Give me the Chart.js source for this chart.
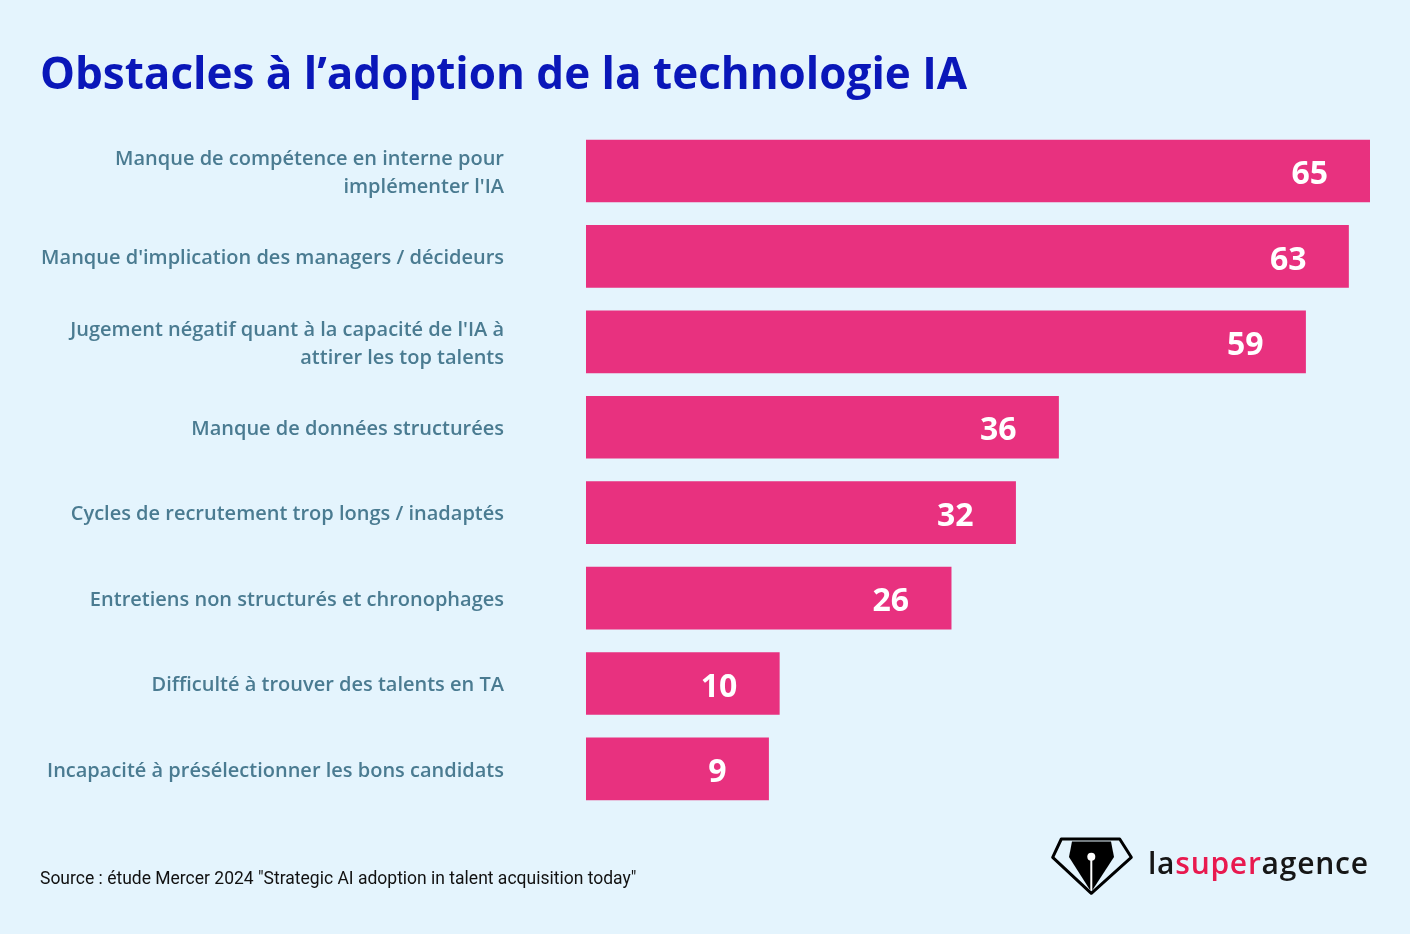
<!DOCTYPE html>
<html>
<head>
<meta charset="utf-8">
<script src="https://cdn.jsdelivr.net/npm/chart.js@4.4.1/dist/chart.umd.min.js"></script>
<style>
  html, body { margin: 0; padding: 0; }
  body { width: 1410px; height: 934px; background: #e4f4fd; position: relative; overflow: hidden; }
  #wrap { position: absolute; left: 0; top: 0; width: 1410px; height: 934px; }
  #title { position: absolute; left: 40px; top: 49.5px; margin: 0; font-family: "Open Sans", sans-serif; font-weight: 700; font-size: 44px; line-height: 1; color: #0a17b9; white-space: nowrap; }
  #source { position: absolute; left: 40px; top: 868px; font-family: Roboto, sans-serif; font-size: 17.5px; line-height: 20px; color: #111; white-space: nowrap; }
  #logo { position: absolute; left: 1048px; top: 834px; width: 90px; height: 64px; }
  #brand { position: absolute; left: 1148px; top: 843px; font-family: "Open Sans", sans-serif; font-weight: 600; font-size: 30px; letter-spacing: 0.75px; line-height: 40px; color: #161616; white-space: nowrap; }
  #brand span { color: #e8194f; }
</style>
</head>
<body>
<div id="wrap"><canvas id="c" width="1410" height="934"></canvas></div>
<h1 id="title">Obstacles à l’adoption de la technologie IA</h1>
<div id="source">Source : étude Mercer 2024 "Strategic AI adoption in talent acquisition today"</div>
<svg id="logo" viewBox="0 0 90 64" xmlns="http://www.w3.org/2000/svg">
  <polygon points="13.3,5 71.7,5 83.3,23.3 43.3,59.3 4.7,23.3" fill="none" stroke="#000" stroke-width="3" stroke-linejoin="round"/>
  <path d="M24,7.5 L63,7.5 L66,23 L44.5,56 L42,56 L21,23 Z" fill="#000"/>
  <circle cx="43.3" cy="22.7" r="4" fill="#fff"/>
  <line x1="43.3" y1="25" x2="43.3" y2="56" stroke="#fff" stroke-width="2"/>
</svg>
<div id="brand">la<span>super</span>agence</div>
<script>
const categories = [
  ["Manque de compétence en interne pour", "implémenter l'IA"],
  "Manque d'implication des managers / décideurs",
  ["Jugement négatif quant à la capacité de l'IA à", "attirer les top talents"],
  "Manque de données structurées",
  "Cycles de recrutement trop longs / inadaptés",
  "Entretiens non structurés et chronophages",
  "Difficulté à trouver des talents en TA",
  "Incapacité à présélectionner les bons candidats"
];
const values = [65, 63, 59, 36, 32, 26, 10, 9];

const barColor = "#e8317f";
const labelColor = "#4a7b91";

const valueLabels = {
  id: "valueLabels",
  afterDatasetsDraw(chart) {
    const ctx = chart.ctx;
    const meta = chart.getDatasetMeta(0);
    ctx.save();
    ctx.font = "700 32px 'Open Sans', sans-serif";
    ctx.fillStyle = "#ffffff";
    ctx.textAlign = "right";
    ctx.textBaseline = "middle";
    meta.data.forEach((bar, i) => {
      ctx.fillText(String(values[i]), bar.x - 42, bar.y + 4);
    });
    ctx.restore();
  }
};

new Chart(document.getElementById("c"), {
  type: "bar",
  data: {
    labels: categories,
    datasets: [{
      data: values,
      backgroundColor: barColor,
      borderWidth: 0,
      barThickness: 62,
      base: -8
    }]
  },
  options: {
    indexAxis: "y",
    responsive: false,
    animation: false,
    devicePixelRatio: 1,
    layout: { padding: { top: 128.3, bottom: 122.4, left: 0, right: 40 } },
    plugins: { legend: { display: false }, tooltip: { enabled: false }, title: { display: false } },
    scales: {
      x: { display: false, min: -8, max: 65 },
      y: {
        afterFit(scale) { scale.width = 586; },
        grid: { display: false, drawTicks: false },
        border: { display: false },
        ticks: {
          padding: 82,
          labelOffset: 2,
          color: labelColor,
          font: { family: "'Open Sans', sans-serif", size: 20, weight: 600, lineHeight: 1.4 }
        }
      }
    }
  },
  plugins: [valueLabels]
});
</script>
</body>
</html>
